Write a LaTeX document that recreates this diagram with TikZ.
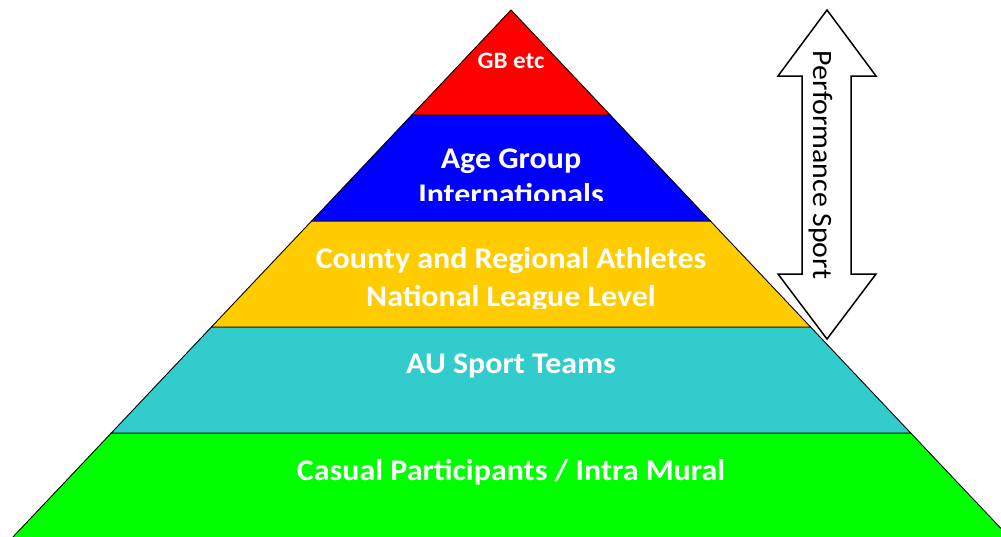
\documentclass[tikz,border=0pt]{standalone}
\usepackage{fontspec}
\setmainfont{Carlito}
\usetikzlibrary{positioning}
\newcommand{\widetext}[1]{\scalebox{1.065}[1]{#1}}
\tikzset{
  layer/.style={draw=black,line width=0.9pt,line join=miter},
  tier/.style={text=white,font=\fontsize{30}{36}\selectfont\bfseries,inner sep=0pt,anchor=base},
  toptier/.style={tier,font=\fontsize{23.5}{28}\selectfont\bfseries},
  bigarrow/.style={draw=black,fill=white,line width=1.5pt,line join=miter}
}
\definecolor{gbred}{HTML}{FF0000}
\definecolor{agblue}{HTML}{0000FF}
\definecolor{countygold}{HTML}{FFCC00}
\definecolor{auteal}{HTML}{33CCCC}
\definecolor{casualgreen}{HTML}{00FF00}

\begin{document}
\begin{tikzpicture}[x=1pt,y=-1pt]

\useasboundingbox (0,0) rectangle (1001,536);

% =========================================================
% Pyramid corners
% =========================================================

\coordinate (apex) at (511,10);
\coordinate (l1) at (411.8,115);  \coordinate (r1) at (610.2,115);
\coordinate (l2) at (311.6,221);  \coordinate (r2) at (710.4,221);
\coordinate (l3) at (211.4,327);  \coordinate (r3) at (810.6,327);
\coordinate (l4) at (111.3,433);  \coordinate (r4) at (910.7,433);
\coordinate (l5) at (12,538);     \coordinate (r5) at (1010,538);

% =========================================================
% Layers, bottom to top
% =========================================================

\fill[casualgreen] (l4) -- (r4) -- (r5) -- (l5) -- cycle;
\draw[layer] (l5) -- (l4) -- (r4) -- (r5);
\filldraw[layer,fill=auteal] (l3) -- (r3) -- (r4) -- (l4) -- cycle;
\filldraw[layer,fill=countygold] (l2) -- (r2) -- (r3) -- (l3) -- cycle;
\filldraw[layer,fill=agblue] (l1) -- (r1) -- (r2) -- (l2) -- cycle;
\filldraw[layer,fill=gbred] (apex) -- (r1) -- (l1) -- cycle;

% =========================================================
% Layer texts
% =========================================================

\node[toptier] (gb) at (511,68) {\widetext{GB etc}};

\begin{scope}
  \clip (300,120) rectangle (720,200);
  \node[tier] (agegroup) at (511,168) {\widetext{Age Group}};
  \node[tier] (intl) at (511,204) {\widetext{Internationals}};
\end{scope}

\begin{scope}
  \clip (200,230) rectangle (820,308);
  \node[tier] (county) at (511,268) {\widetext{County and Regional Athletes}};
  \node[tier] (league) at (511,306) {\widetext{National League Level}};
\end{scope}

\node[tier] (auteams) at (511,373) {\widetext{AU Sport Teams}};
\node[tier] (casual) at (511,480) {\widetext{Casual Participants / Intra Mural}};

% =========================================================
% Double arrow on the right
% =========================================================

\draw[bigarrow] (827,10) -- (876,76) -- (851,76) -- (851,274) -- (876,274)
  -- (827,339) -- (778,274) -- (802,274) -- (802,76) -- (778,76) -- cycle;

\node[rotate=-90,font=\fontsize{28}{32}\selectfont,inner sep=0pt] (perf) at (821,165) {\widetext{Performance Sport}};

\end{tikzpicture}
\end{document}
